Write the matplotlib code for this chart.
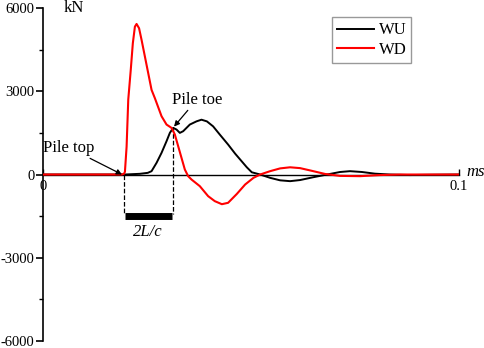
import numpy as np
import matplotlib.pyplot as plt
from matplotlib.ticker import MultipleLocator

plt.rcParams["font.family"] = ["Liberation Serif", "DejaVu Serif"]
plt.rcParams["axes.unicode_minus"] = False

# time axis in ms, force in kN
wd_t = [0.0, 0.0180, 0.0190, 0.0195, 0.0197, 0.0201, 0.0205, 0.0211, 0.0216,
        0.0221, 0.0225, 0.0231, 0.0237, 0.0245, 0.0253, 0.0261, 0.0269, 0.0285,
        0.0297, 0.0309, 0.0317, 0.0325, 0.0333, 0.0341, 0.0349, 0.0357, 0.0377,
        0.0397, 0.0413, 0.0430, 0.0445, 0.0466, 0.0486, 0.0506, 0.0522, 0.0546,
        0.0570, 0.0594, 0.0618, 0.0647, 0.0678, 0.0714, 0.0762, 0.0810, 0.0858,
        0.1000]
wd_v = [0, 0, 0, 30, 100, 1000, 2700, 3770, 4730,
        5330, 5425, 5270, 4850, 4250, 3650, 3050, 2750, 2100,
        1800, 1680, 1440, 1020, 600, 180, -60, -180, -420,
        -780, -960, -1070, -1020, -700, -360, -120, 0, 120,
        220, 260, 230, 130, 20, -50, -60, -20, 0,
        0]

wu_t = [0.0, 0.0197, 0.0233, 0.0252, 0.0261, 0.0273, 0.0285, 0.0297, 0.0305,
        0.0313, 0.0321, 0.0329, 0.0337, 0.0353, 0.0369, 0.0381, 0.0394, 0.0409,
        0.0425, 0.0445, 0.0462, 0.0474, 0.0490, 0.0502, 0.0522, 0.0546, 0.0570,
        0.0594, 0.0618, 0.0649, 0.0683, 0.0714, 0.0738, 0.0767, 0.0798, 0.0834,
        0.0882, 0.0930, 0.1000]
wu_v = [0, 0, 25, 60, 120, 420, 780, 1200, 1500,
        1680, 1620, 1500, 1560, 1800, 1915, 1975, 1915, 1735,
        1440, 1080, 750, 540, 260, 80, 0, -120, -210,
        -240, -200, -100, 0, 90, 120, 90, 30, 0,
        -20, -10, 0]

fig = plt.figure(figsize=(4.84, 3.48), dpi=100)
ax = fig.add_axes([0.0888, 0.0201, 0.8595, 0.9569])

ax.plot(wu_t, wu_v, color="black", lw=1.4, label="WU", zorder=3)
ax.plot(wd_t, wd_v, color="red", lw=1.5, label="WD", zorder=3)

ax.set_xlim(0, 0.1)
ax.set_ylim(-6000, 6000)

for s in ["top", "right"]:
    ax.spines[s].set_visible(False)
ax.spines["bottom"].set_position(("data", 0))
ax.spines["left"].set_linewidth(1.2)
ax.spines["bottom"].set_linewidth(1.0)

ax.yaxis.set_major_locator(MultipleLocator(3000))
ax.yaxis.set_minor_locator(MultipleLocator(1500))
ax.tick_params(axis="y", which="major", direction="out", length=5, width=1.2,
               labelsize=10.5, pad=1)
ax.tick_params(axis="y", which="minor", direction="out", length=3, width=1.0)
ax.set_xticks([0, 0.1])
ax.set_xticklabels(["0", "0.1"])
ax.tick_params(axis="x", direction="in", length=4, width=1.0, labelsize=10.5,
               pad=4)

ax.text(0.005, 6000, "kN", fontsize=12, ha="left", va="center")
ax.text(0.1018, 80, "ms", fontsize=12, style="italic", ha="left", va="center")

# 2L/c markers
ax.plot([0.0195, 0.0195], [0, -1440], ls="--", color="black", lw=0.9)
ax.plot([0.0313, 0.0313], [1700, -1440], ls="--", color="black", lw=0.9)
ax.plot([0.0196, 0.0311], [-1510, -1510], color="black", lw=5,
        solid_capstyle="butt")
ax.text(0.0252, -2080, "2L/c", fontsize=12, style="italic", ha="center",
        va="center")

arrow = dict(arrowstyle="-|>", color="black", lw=0.9, mutation_scale=8,
             shrinkA=0, shrinkB=0)
ax.annotate("Pile top", xy=(0.0190, 0), xytext=(0.0062, 970),
            fontsize=12, ha="center", va="center", arrowprops=arrow)
ax.annotate("Pile toe", xy=(0.0315, 1725), xytext=(0.0370, 2700),
            fontsize=12, ha="center", va="center", arrowprops=arrow)

leg = fig.legend(loc="upper left", bbox_to_anchor=(0.686, 0.95), fontsize=12,
                 frameon=True, fancybox=False, edgecolor="gray",
                 handlelength=2.2, handletextpad=0.3, borderpad=0.3,
                 borderaxespad=0, labelspacing=0.2)
leg.get_frame().set_linewidth(1.0)

fig.savefig("out.png", dpi=100)
